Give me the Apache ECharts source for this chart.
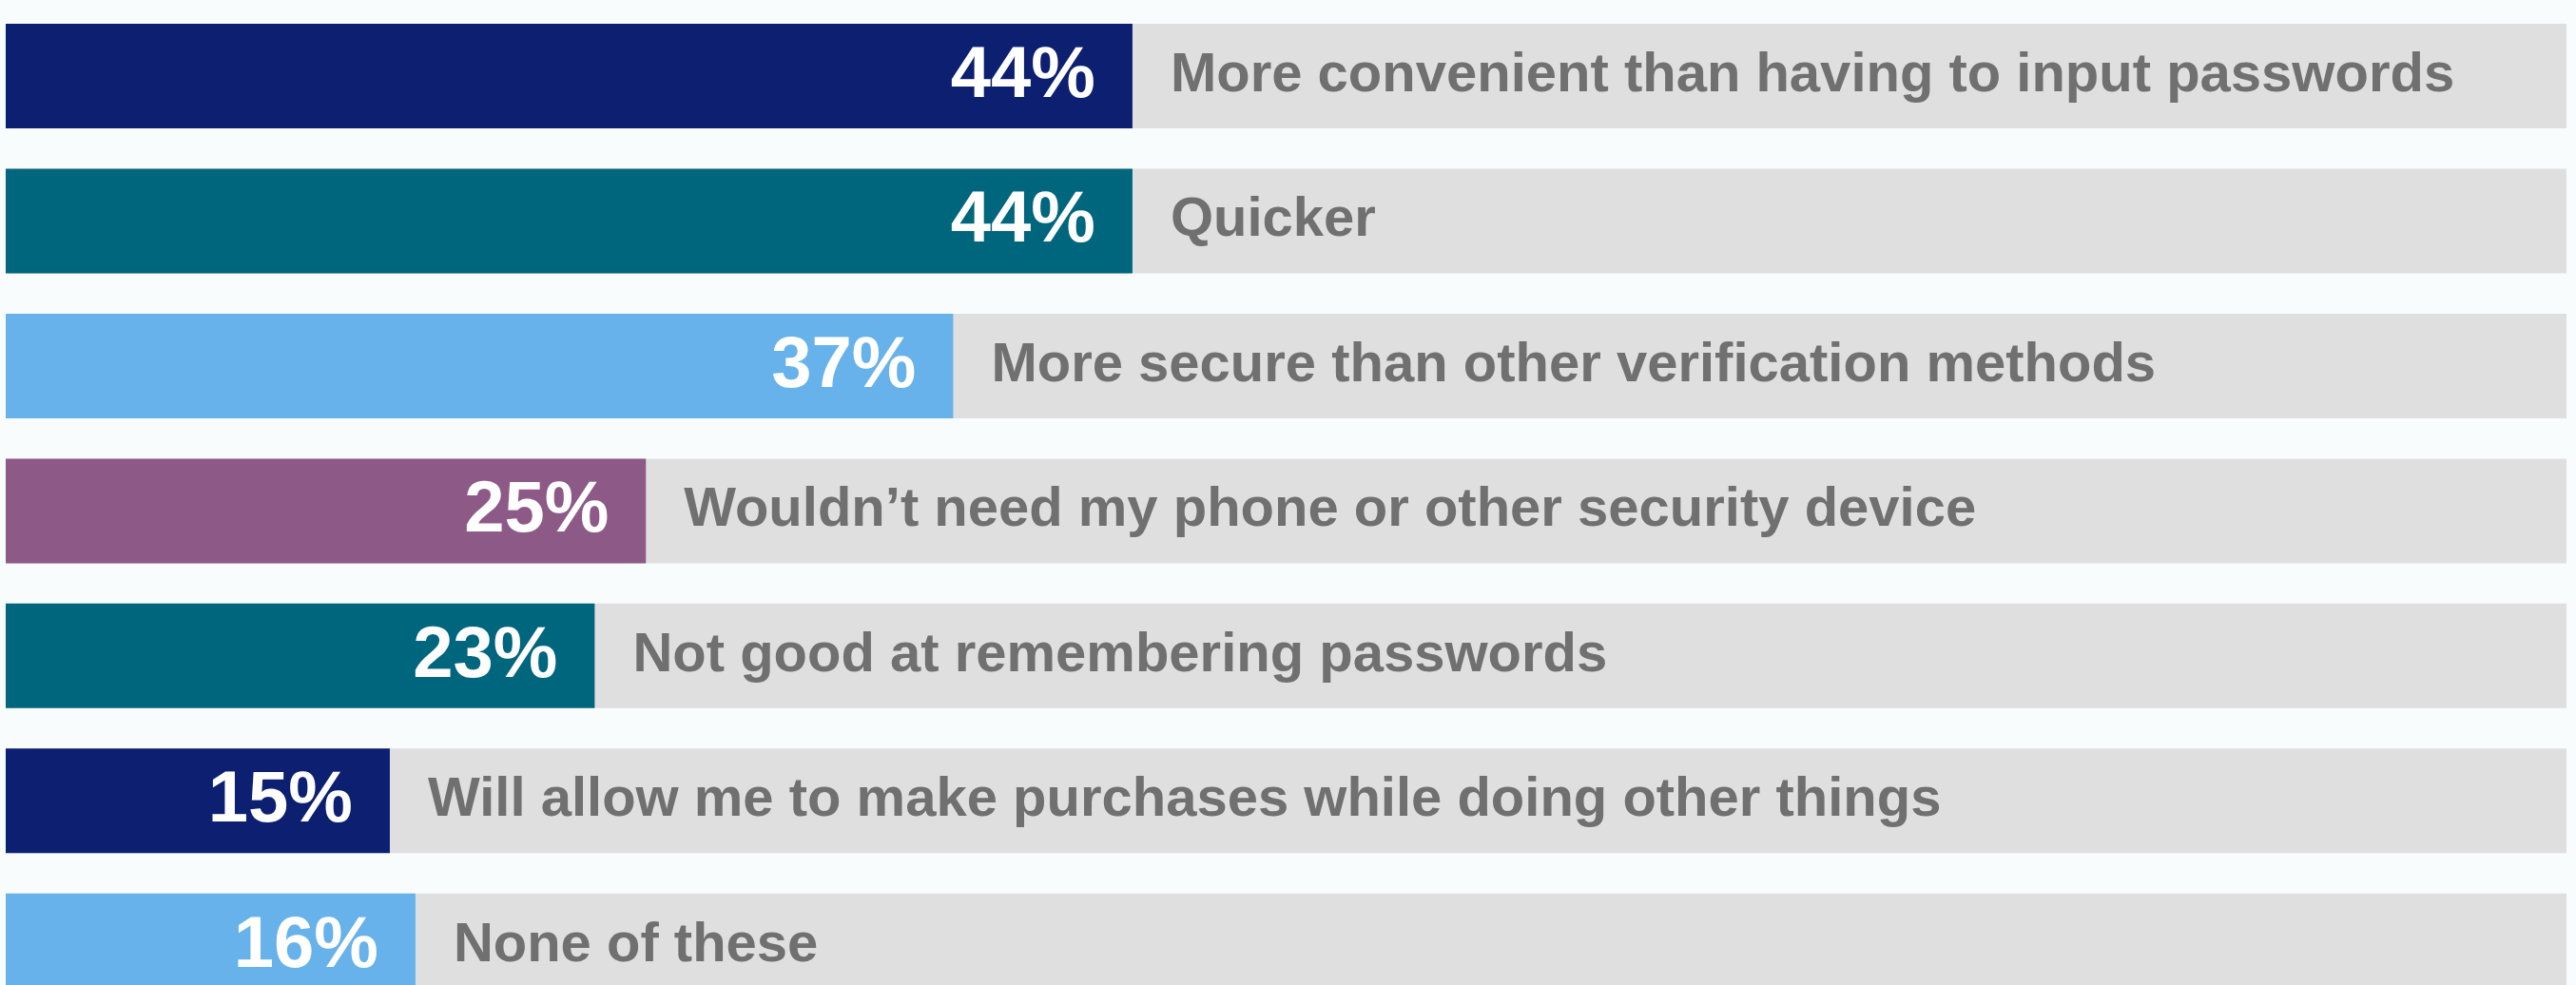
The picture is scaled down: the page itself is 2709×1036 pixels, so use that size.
<!DOCTYPE html>
<html>
<head>
<meta charset="utf-8">
<script src="https://cdn.jsdelivr.net/npm/echarts@6/dist/echarts.min.js"></script>
<style>
  html, body { margin: 0; padding: 0; background: #f8fcfd; overflow: hidden; }
  #chart { width: 2709px; height: 1071px; }
</style>
</head>
<body>
<div id="chart"></div>
<script>
const categories = [
  'More convenient than having to input passwords',
  'Quicker',
  'More secure than other verification methods',
  'Wouldn\u2019t need my phone or other security device',
  'Not good at remembering passwords',
  'Will allow me to make purchases while doing other things',
  'None of these'
];
const values = [44, 44, 37, 25, 23, 15, 16];
const palette = ['#0c1f71', '#00667e', '#67b2ea', '#8d5a88', '#00667e', '#0c1f71', '#67b2ea'];

const chart = echarts.init(document.getElementById('chart'), null, { renderer: 'canvas' });
const font = '"Liberation Sans", Arial, Helvetica, sans-serif';

chart.setOption({
  backgroundColor: '#f8fcfd',
  animation: false,
  grid: { left: 6, right: 10, top: 3.75, bottom: 0, containLabel: false },
  xAxis: {
    type: 'value', min: 0, max: 100,
    show: false
  },
  yAxis: {
    type: 'category', data: categories, inverse: true,
    show: false
  },
  series: [
    {
      type: 'bar',
      barWidth: 110,
      showBackground: true,
      backgroundStyle: { color: '#dfdfdf' },
      data: values.map((v, i) => ({ value: v, itemStyle: { color: palette[i] } })),
      label: {
        show: true,
        position: 'insideRight',
        distance: 39,
        offset: [0, 1],
        formatter: p => p.value + '%',
        color: '#ffffff',
        fontFamily: font,
        fontWeight: 'bold',
        fontSize: 76
      }
    },
    {
      type: 'bar',
      barWidth: 110,
      barGap: '-100%',
      silent: true,
      itemStyle: { color: 'rgba(0,0,0,0)' },
      data: values,
      label: {
        show: true,
        position: 'right',
        distance: 40,
        offset: [0, 0],
        formatter: p => p.name,
        color: '#707070',
        fontFamily: font,
        fontWeight: 'bold',
        fontSize: 58
      }
    }
  ]
});
</script>
</body>
</html>
